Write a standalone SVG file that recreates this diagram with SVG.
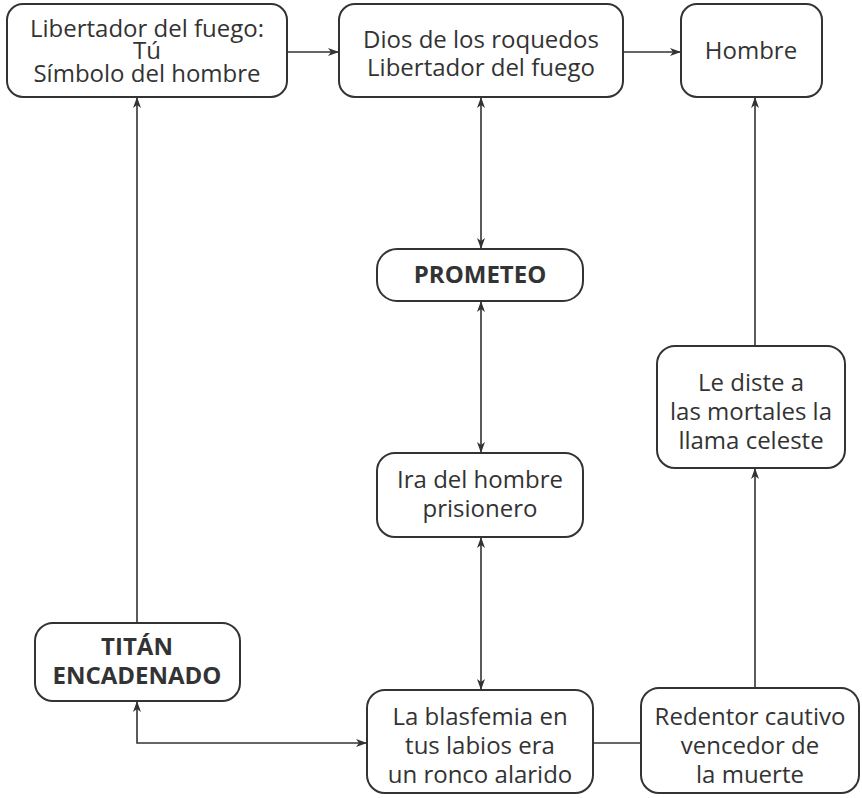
<svg xmlns="http://www.w3.org/2000/svg" width="862" height="798" viewBox="0 0 862 798">
<defs>
<marker id="ah" markerUnits="userSpaceOnUse" markerWidth="12" markerHeight="10" refX="11" refY="4" orient="auto-start-reverse" viewBox="0 0 12 8">
<path d="M0,0 L11,4 L0,8 L3,4 z" fill="#333"/>
</marker>
<style>
.box{fill:#fff;stroke:#333;stroke-width:2}
.t{font-family:"Open Sans","Liberation Sans",sans-serif;font-size:24px;fill:#333;text-anchor:middle}
.b{font-weight:bold}
.c{fill:none;stroke:#333;stroke-width:1.6}
</style>
</defs>
<rect width="862" height="798" fill="#fff"/>
<g id="connectors">
<path class="c" d="M287 52 H339" marker-end="url(#ah)"/>
<path class="c" d="M623 52 H681" marker-end="url(#ah)"/>
<path class="c" d="M481 97 V249" marker-start="url(#ah)" marker-end="url(#ah)"/>
<path class="c" d="M481 301 V453" marker-start="url(#ah)" marker-end="url(#ah)"/>
<path class="c" d="M481 537 V690" marker-start="url(#ah)" marker-end="url(#ah)"/>
<path class="c" d="M137 623 V97" marker-end="url(#ah)"/>
<path class="c" d="M137 701 V743 H367" marker-start="url(#ah)" marker-end="url(#ah)"/>
<path class="c" d="M593 743 H641"/>
<path class="c" d="M755 688 V468" marker-end="url(#ah)"/>
<path class="c" d="M755 346 V97" marker-end="url(#ah)"/>
</g>
<g id="n1">
<rect class="box" x="7" y="4" width="280" height="93" rx="16"/>
<text class="t" x="147" y="37">Libertador del fuego:</text>
<text class="t" x="147" y="59">Tú</text>
<text class="t" x="147" y="82">Símbolo del hombre</text>
</g>
<g id="n2">
<rect class="box" x="339" y="4" width="284" height="93" rx="16"/>
<text class="t" x="481" y="48">Dios de los roquedos</text>
<text class="t" x="481" y="76">Libertador del fuego</text>
</g>
<g id="n3">
<rect class="box" x="681" y="4" width="141" height="93" rx="16"/>
<text class="t" x="751" y="59">Hombre</text>
</g>
<g id="n4">
<rect class="box" x="377" y="249" width="206" height="52" rx="20"/>
<text class="t b" x="480" y="283">PROMETEO</text>
</g>
<g id="n5">
<rect class="box" x="377" y="453" width="206" height="84" rx="18"/>
<text class="t" x="480" y="488">Ira del hombre</text>
<text class="t" x="480" y="517">prisionero</text>
</g>
<g id="n6">
<rect class="box" x="657" y="346" width="188" height="122" rx="18"/>
<text class="t" x="751" y="391">Le diste a</text>
<text class="t" x="751" y="420">las mortales la</text>
<text class="t" x="751" y="449">llama celeste</text>
</g>
<g id="n7">
<rect class="box" x="35" y="623" width="205" height="78" rx="18"/>
<text class="t b" x="137" y="655">TITÁN</text>
<text class="t b" x="137" y="684">ENCADENADO</text>
</g>
<g id="n8">
<rect class="box" x="367" y="690" width="226" height="103" rx="18"/>
<text class="t" x="480" y="725">La blasfemia en</text>
<text class="t" x="480" y="754">tus labios era</text>
<text class="t" x="480" y="783">un ronco alarido</text>
</g>
<g id="n9">
<rect class="box" x="641" y="688" width="218" height="105" rx="18"/>
<text class="t" x="750" y="725">Redentor cautivo</text>
<text class="t" x="750" y="754">vencedor de</text>
<text class="t" x="750" y="783">la muerte</text>
</g>
</svg>
